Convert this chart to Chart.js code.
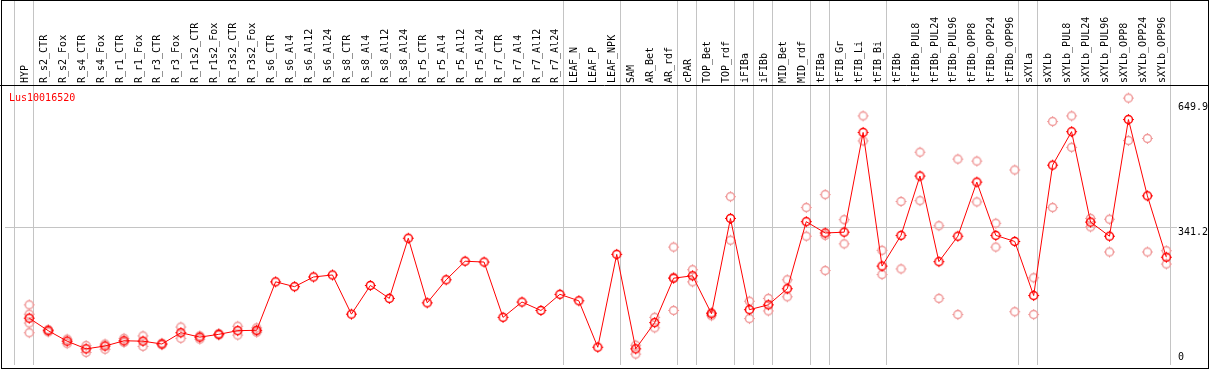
<!DOCTYPE html>
<html>
<head>
<meta charset="utf-8">
<script src="https://cdn.jsdelivr.net/npm/chart.js@4.4.1/dist/chart.umd.min.js"></script>
<style>
  html, body { margin: 0; padding: 0; background: #fff; }
</style>
</head>
<body>
<canvas id="chart" width="1209" height="370"></canvas>
<script>
const geneId = 'Lus10016520';

const categories = [
  'HYP', 'R_s2_CTR', 'R_s2_Fox', 'R_s4_CTR', 'R_s4_Fox', 'R_r1_CTR', 'R_r1_Fox',
  'R_r3_CTR', 'R_r3_Fox', 'R_r1s2_CTR', 'R_r1s2_Fox', 'R_r3s2_CTR', 'R_r3s2_Fox',
  'R_s6_CTR', 'R_s6_Al4', 'R_s6_Al12', 'R_s6_Al24', 'R_s8_CTR', 'R_s8_Al4',
  'R_s8_Al12', 'R_s8_Al24', 'R_r5_CTR', 'R_r5_Al4', 'R_r5_Al12', 'R_r5_Al24',
  'R_r7_CTR', 'R_r7_Al4', 'R_r7_Al12', 'R_r7_Al24', 'LEAF_N', 'LEAF_P', 'LEAF_NPK',
  'SAM', 'AR_Bet', 'AR_rdf', 'cPAR', 'TOP_Bet', 'TOP_rdf', 'iFIBa', 'iFIBb',
  'MID_Bet', 'MID_rdf', 'tFIBa', 'tFIB_Gr', 'tFIB_Li', 'tFIB_Bi', 'tFIBb',
  'tFIBb_PUL8', 'tFIBb_PUL24', 'tFIBb_PUL96', 'tFIBb_OPP8', 'tFIBb_OPP24', 'tFIBb_OPP96',
  'sXYLa', 'sXYLb', 'sXYLb_PUL8', 'sXYLb_PUL24', 'sXYLb_PUL96', 'sXYLb_OPP8',
  'sXYLb_OPP24', 'sXYLb_OPP96'
];

// mean expression per sample
const meanValues = [
  116, 85, 59, 40, 47, 60, 59, 52, 80, 69, 76, 85, 86,
  206, 194, 218, 223, 126, 197, 165, 314, 154, 211, 257, 255,
  118, 156, 135, 175, 159, 44, 274,
  40, 105, 215, 221, 127, 363, 137, 149, 189, 355,
  327, 329, 576, 245, 321, 468, 256, 319, 453, 321, 306,
  172, 495, 578, 354, 319, 608, 419, 267
];

// single replicates (null = not shown)
const rep1 = [
  149, 88, 64, 48, 52, 66, 72, 54, 94, 72, 78, 96, 92,
  null, null, null, null, null, null, null, null, null, null, null, null,
  null, null, null, null, null, null, null,
  49, 118, 292, 236, 122, 417, 158, 165, 211, 390,
  422, 360, 617, 284, 405, 527, 345, 510, 505, 351, 483,
  216, 603, 617, 363, 361, 661, 561, 283
];
const rep2 = [
  126, 82, 53, 31, 39, 56, 46, 50, 66, 64, 74, 74, 84,
  null, null, null, null, null, null, null, null, null, null, null, null,
  null, null, null, null, null, null, null,
  27, 92, 135, 206, 130, 309, 115, 134, 169, 319,
  321, 300, 555, 224, 238, 407, 165, 125, 404, 292, 132,
  125, 390, 539, 342, 280, 556, 280, 250
];
const rep3 = [
  104, null, null, null, null, null, null, null, null, null, null, null, 81,
  null, null, null, null, null, null, null, null, null, null, null, null,
  null, null, null, null, null, null, null,
  null, null, 217, null, null, null, null, null, null, null,
  234, null, null, null, null, null, null, null, null, null, null,
  null, null, null, null, null, null, null, null
];
const rep4 = [80];

// separators are drawn just after these sample indexes
const groupEnds = [-1, 0, 28, 31, 34, 35, 37, 38, 39, 41, 42, 45, 52, 53, 60];
const refLevels = [0, 341.2, 649.9];
const refLabels = ['0', '341.2', '649.9'];

const FONT = '"DejaVu Sans Mono", "Liberation Mono", monospace';
const SEP = 4 / 19;

function makeMarker(color) {
  const c = document.createElement('canvas');
  c.width = 13; c.height = 13;
  const g = c.getContext('2d');
  g.strokeStyle = color;
  g.lineWidth = 1.5;
  g.beginPath();
  g.arc(6.5, 6.5, 4, 0, Math.PI * 2);
  g.stroke();
  g.lineWidth = 1;
  g.beginPath();
  g.moveTo(6.5, 1); g.lineTo(6.5, 2.5);
  g.moveTo(6.5, 10.5); g.lineTo(6.5, 12);
  g.moveTo(1, 6.5); g.lineTo(2.5, 6.5);
  g.moveTo(10.5, 6.5); g.lineTo(12, 6.5);
  g.stroke();
  return c;
}

const redMark = makeMarker('#ff0000');
const pinkMark = makeMarker('#f09a9a');

const replicatePoints = [];
[rep1, rep2, rep3, rep4].forEach(rep => {
  rep.forEach((v, i) => {
    if (v !== null && v !== undefined) replicatePoints.push({ x: i, y: v });
  });
});

const framePlugin = {
  id: 'frame',
  afterDraw(chart) {
    const ctx = chart.ctx;
    const area = chart.chartArea;
    const y = chart.scales.y;
    ctx.save();
    ctx.strokeStyle = '#000';
    ctx.lineWidth = 1;
    ctx.strokeRect(1.5, 0.5, 1207, 368);
    ctx.beginPath();
    ctx.moveTo(0, Math.round(area.top) - 0.5);
    ctx.lineTo(chart.width, Math.round(area.top) - 0.5);
    ctx.stroke();

    ctx.font = '10px ' + FONT;
    ctx.fillStyle = '#000';
    ctx.textAlign = 'left';
    refLevels.forEach((v, i) => {
      const py = y.getPixelForValue(v);
      if (v === 0) {
        ctx.textBaseline = 'bottom';
        ctx.fillText(refLabels[i], area.right + 1, py - 3);
      } else {
        ctx.textBaseline = 'top';
        ctx.fillText(refLabels[i], area.right + 1, py);
      }
    });

    ctx.fillStyle = '#ff0000';
    ctx.textBaseline = 'top';
    ctx.fillText(geneId, 9, area.top + 7);
    ctx.restore();
  }
};

new Chart(document.getElementById('chart'), {
  type: 'line',
  data: {
    datasets: [
      {
        label: 'mean',
        data: meanValues.map((v, i) => ({ x: i, y: v })),
        borderColor: '#ff0000',
        borderWidth: 1,
        pointStyle: redMark,
        tension: 0,
        order: 0
      },
      {
        label: 'replicates',
        type: 'scatter',
        data: replicatePoints,
        pointStyle: pinkMark,
        showLine: false,
        order: 1
      }
    ]
  },
  options: {
    responsive: false,
    animation: false,
    devicePixelRatio: 1,
    layout: { padding: { left: 2, right: 0, top: 0, bottom: 2 } },
    plugins: { legend: { display: false }, tooltip: { enabled: false } },
    scales: {
      x: {
        type: 'linear',
        position: 'top',
        min: -1.279,
        max: 60.563,
        afterBuildTicks: scale => {
          const t = categories.map((c, i) => ({ value: i }));
          groupEnds.forEach(k => t.push({ value: k + SEP }));
          scale.ticks = t;
        },
        afterFit: scale => { scale.height = 86; },
        border: { display: false },
        grid: {
          color: c => (c.tick && !Number.isInteger(c.tick.value)) ? '#c4c4c4' : 'rgba(0,0,0,0)',
          lineWidth: 1,
          drawTicks: true,
          tickLength: 86
        },
        ticks: {
          autoSkip: false,
          minRotation: 90,
          maxRotation: 90,
          padding: -83,
          labelOffset: 8,
          color: '#000',
          font: { family: FONT, size: 10 },
          callback: v => Number.isInteger(v) ? categories[v] : ''
        }
      },
      y: {
        type: 'linear',
        position: 'right',
        min: 0,
        max: 691,
        afterBuildTicks: scale => {
          scale.ticks = refLevels.map(v => ({ value: v }));
        },
        afterFit: scale => { scale.width = 32; },
        border: { display: false },
        grid: {
          color: c => (c.tick && c.tick.value === 341.2) ? '#c4c4c4' : 'rgba(0,0,0,0)',
          drawTicks: false
        },
        ticks: { display: false }
      }
    }
  },
  plugins: [framePlugin]
});
</script>
</body>
</html>
